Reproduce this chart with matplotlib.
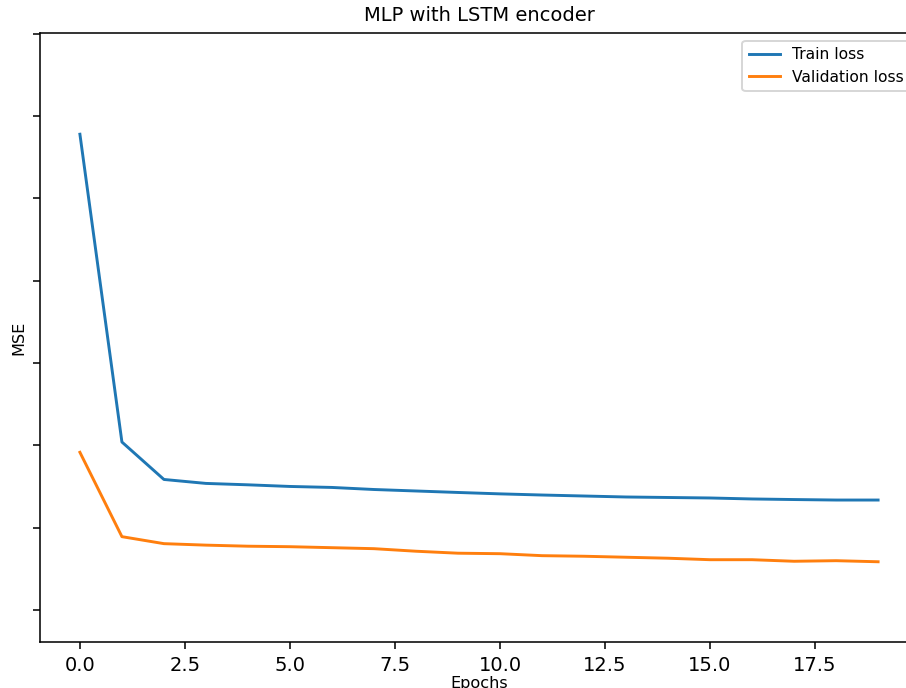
import matplotlib
matplotlib.use("Agg")
import matplotlib.pyplot as plt

epochs = list(range(20))
train_loss = [0.0578, 0.0204, 0.01585, 0.01537, 0.0152, 0.0150, 0.01488, 0.01463,
              0.01445, 0.01427, 0.0141, 0.01396, 0.01384, 0.01372, 0.01366, 0.0136,
              0.01348, 0.01341, 0.01335, 0.01335]
val_loss = [0.01915, 0.0089, 0.00805, 0.00787, 0.00774, 0.00768, 0.00756, 0.00744,
            0.00713, 0.00689, 0.00683, 0.00659, 0.00652, 0.0064, 0.00628, 0.0061,
            0.0061, 0.00591, 0.00598, 0.00585]

W, H, DPI = 906, 688, 140
fig = plt.figure(figsize=(W / DPI, H / DPI), dpi=DPI)
ax = fig.add_axes([40 / W, (H - 642) / H, 878 / W, 609 / H])

ax.plot(epochs, train_loss, label="Train loss")
ax.plot(epochs, val_loss, label="Validation loss")
ax.set_yticks([0.0, 0.01, 0.02, 0.03, 0.04, 0.05, 0.06, 0.07])
ax.set_yticklabels([])
ax.set_ylim(-0.0039, 0.0701)
ax.set_title("MLP with LSTM encoder", fontsize=10)
ax.set_xlabel("Epochs", fontsize=8.3, labelpad=0.5)
ax.set_ylabel("MSE", fontsize=8.3, labelpad=0)
ax.legend(loc="upper right", fontsize=8)

fig.savefig("out.png", dpi=DPI)
